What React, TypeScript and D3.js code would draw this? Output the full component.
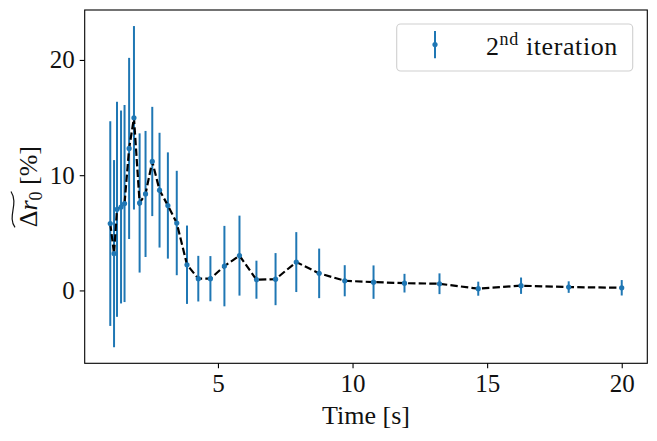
import React, { useEffect, useRef } from "react";
import * as d3 from "d3";

const times = [1.0, 1.14, 1.25, 1.4, 1.53, 1.7, 1.88, 2.09, 2.31, 2.56, 2.83, 3.14, 3.47, 3.85, 4.27, 4.72, 5.24, 5.8, 6.43, 7.14, 7.91, 8.76, 9.71, 10.78, 11.93, 13.23, 14.67, 16.26, 18.03, 20.0];
const values = [5.8, 3.19, 7.04, 7.24, 7.54, 12.32, 14.98, 7.59, 8.37, 11.19, 8.7, 7.37, 5.85, 2.23, 1.02, 1.02, 2.11, 3.02, 0.93, 0.98, 2.46, 1.48, 0.84, 0.72, 0.63, 0.58, 0.15, 0.41, 0.29, 0.23];
const errors = [8.88, 8.12, 9.33, 8.37, 8.55, 7.86, 7.96, 6.04, 5.47, 4.74, 4.98, 4.61, 4.53, 3.4, 1.98, 1.96, 3.49, 3.47, 1.65, 2.26, 2.6, 2.15, 1.35, 1.45, 0.81, 0.9, 0.61, 0.71, 0.5, 0.67];
const xTicks = [5, 10, 15, 20];
const yTicks = [0, 10, 20];
const xLabel = "Time [s]";
const legendLabel = "iteration";

const W = 657;
const H = 441;
const FONT = "'Liberation Serif', 'DejaVu Serif', serif";
const BLUE = "#1f77b4";

export default function App() {
  const ref = useRef<SVGSVGElement | null>(null);

  useEffect(() => {
    const svg = d3.select(ref.current);
    svg.selectAll("*").remove();
    const m = { left: 84.7, right: 647.3, top: 10, bottom: 363.3 };

    const lo = d3.min(values.map((v, i) => v - errors[i])) as number;
    const hi = d3.max(values.map((v, i) => v + errors[i])) as number;
    const xmin = d3.min(times) as number;
    const xmax = d3.max(times) as number;
    const xr = xmax - xmin;
    const yr = hi - lo;
    const x = d3.scaleLinear().domain([xmin - 0.05 * xr, xmax + 0.05 * xr]).range([m.left, m.right]);
    const y = d3.scaleLinear().domain([lo - 0.05 * yr, hi + 0.05 * yr]).range([m.bottom, m.top]);

    svg.append("rect").attr("width", W).attr("height", H).attr("fill", "white");

    const plot = svg.append("g");
    plot.selectAll("line.err").data(times).enter().append("line")
      .attr("x1", (d) => x(d)).attr("x2", (d) => x(d))
      .attr("y1", (_d, i) => y(values[i] - errors[i]))
      .attr("y2", (_d, i) => y(values[i] + errors[i]))
      .attr("stroke", BLUE).attr("stroke-width", 2);

    const line = d3.line<number>().x((d) => x(d)).y((_d, i) => y(values[i]));
    plot.append("path").datum(times).attr("d", line)
      .attr("fill", "none").attr("stroke", "black").attr("stroke-width", 2.2)
      .attr("stroke-dasharray", "7.4,3.2");

    plot.selectAll("circle").data(times).enter().append("circle")
      .attr("cx", (d) => x(d)).attr("cy", (_d, i) => y(values[i]))
      .attr("r", 2.6).attr("fill", BLUE);

    svg.append("rect").attr("x", m.left).attr("y", m.top)
      .attr("width", m.right - m.left).attr("height", m.bottom - m.top)
      .attr("fill", "none").attr("stroke", "black").attr("stroke-width", 1.1);

    const xAxis = svg.append("g").attr("transform", `translate(0,${m.bottom})`)
      .call(d3.axisBottom(x).tickValues(xTicks).tickSize(5).tickPadding(6).tickFormat(d3.format("d")));
    xAxis.select(".domain").remove();
    xAxis.selectAll("line").attr("stroke", "black").attr("stroke-width", 1.1);
    xAxis.selectAll("text").attr("font-family", FONT).attr("font-size", 25).attr("fill", "#111");

    const yAxis = svg.append("g").attr("transform", `translate(${m.left},0)`)
      .call(d3.axisLeft(y).tickValues(yTicks).tickSize(5).tickPadding(5).tickFormat(d3.format("d")));
    yAxis.select(".domain").remove();
    yAxis.selectAll("line").attr("stroke", "black").attr("stroke-width", 1.1);
    yAxis.selectAll("text").attr("font-family", FONT).attr("font-size", 25).attr("fill", "#111");

    svg.append("text").attr("x", (m.left + m.right) / 2).attr("y", 424)
      .attr("text-anchor", "middle").attr("font-family", FONT).attr("font-size", 26)
      .attr("fill", "#111").text(xLabel);

    const yl = svg.append("g").attr("transform", `translate(37,${(m.top + m.bottom) / 2}) rotate(-90)`);
    const t = yl.append("text").attr("font-family", FONT).attr("font-size", 26).attr("fill", "#111");
    t.append("tspan").text("Δ");
    t.append("tspan").attr("font-style", "italic").text("r");
    t.append("tspan").attr("font-size", 18).attr("dy", 5).text("0");
    t.append("tspan").attr("dy", -5).text(" [%]");
    const node = t.node() as SVGTextElement;
    const total = node.getComputedTextLength();
    const sub = node.getSubStringLength(0, 3);
    const x0 = -total / 2;
    t.attr("x", x0);
    t.select("tspan").attr("x", x0);
    const tw = sub;
    const tv = -25;
    yl.append("path")
      .attr("d", `M${x0},${tv + 3} C${x0 + tw * 0.3},${tv - 5} ${x0 + tw * 0.65},${tv + 7} ${x0 + tw},${tv - 1}`)
      .attr("fill", "none").attr("stroke", "#111").attr("stroke-width", 1.2);

    const lg = svg.append("g");
    lg.append("rect").attr("x", 396.7).attr("y", 24).attr("width", 236).attr("height", 47)
      .attr("rx", 4).attr("fill", "white").attr("fill-opacity", 0.8)
      .attr("stroke", "#d0d0d0").attr("stroke-width", 1.1);
    lg.append("line").attr("x1", 435).attr("x2", 435).attr("y1", 31).attr("y2", 58.3)
      .attr("stroke", BLUE).attr("stroke-width", 2);
    lg.append("circle").attr("cx", 435).attr("cy", 44.5).attr("r", 2.6).attr("fill", BLUE);
    const lt = lg.append("text").attr("x", 486).attr("y", 55).attr("font-family", FONT)
      .attr("font-size", 26).attr("letter-spacing", 0.6).attr("fill", "#111");
    lt.append("tspan").text("2");
    lt.append("tspan").attr("font-size", 18).attr("dy", -10).text("nd");
    lt.append("tspan").attr("dy", 10).text(" " + legendLabel);
  }, []);

  return (
    <svg ref={ref} width={W} height={H} style={{ position: "absolute", left: 0, top: 0, display: "block" }} />
  );
}
